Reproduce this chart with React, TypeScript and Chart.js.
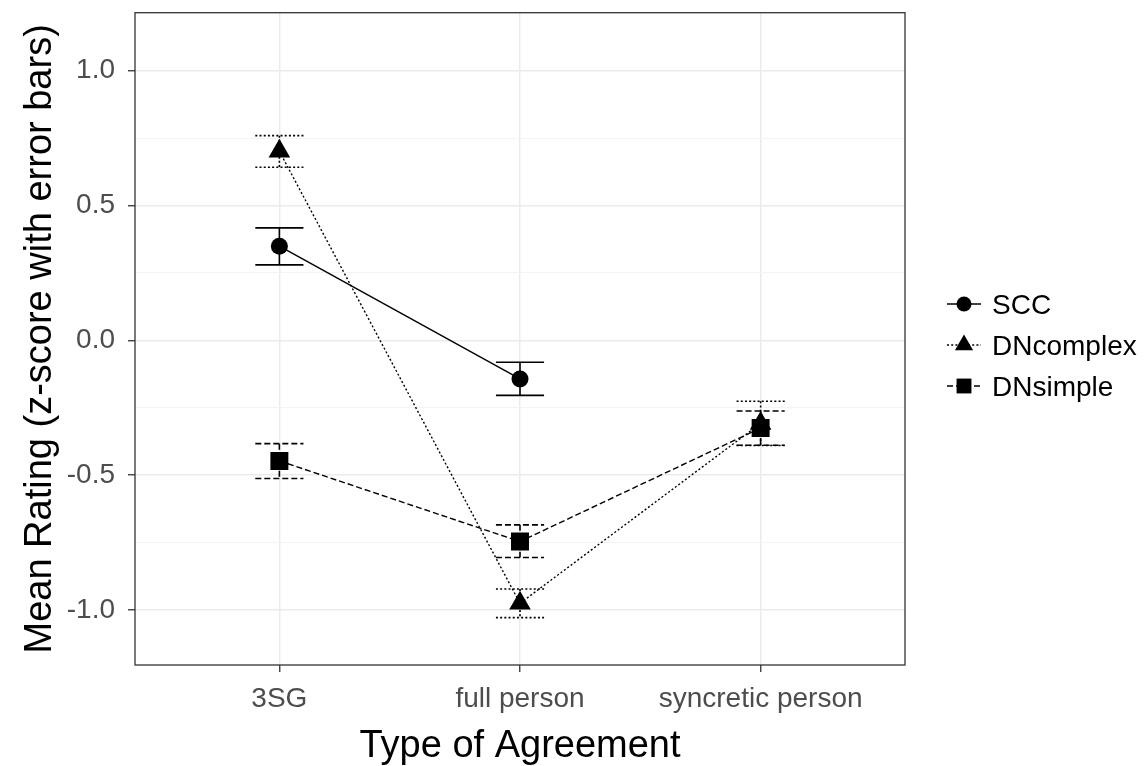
import React, { useEffect, useRef } from "react";
import { Chart, registerables } from "chart.js";

Chart.register(...registerables);

// ---- data ----
const categories = ["3SG", "full person", "syncretic person"];
const seriesNames = ["SCC", "DNcomplex", "DNsimple"];

const sccMean = [0.349, -0.143, null];
const sccLow = [0.28, -0.204, null];
const sccHigh = [0.417, -0.081, null];

const dnComplexMean = [0.701, -0.975, -0.308];
const dnComplexLow = [0.642, -1.028, -0.39];
const dnComplexHigh = [0.759, -0.922, -0.226];

const dnSimpleMean = [-0.447, -0.746, -0.325];
const dnSimpleLow = [-0.512, -0.805, -0.389];
const dnSimpleHigh = [-0.383, -0.684, -0.262];

const yTicks = [-1.0, -0.75, -0.5, -0.25, 0.0, 0.25, 0.5, 0.75, 1.0];

const xTitle = "Type of Agreement";
const yTitle = "Mean Rating (z-score with error bars)";

const FONT = "'Liberation Sans', Arial, Helvetica, sans-serif";

const isMajor = (v: number) => Math.abs(v * 2 - Math.round(v * 2)) < 1e-6;

function drawMarker(ctx: CanvasRenderingContext2D, style: string, x: number, y: number, r: number) {
  ctx.beginPath();
  if (style === "circle") {
    ctx.arc(x, y, r, 0, Math.PI * 2);
  } else if (style === "triangle") {
    ctx.moveTo(x, y - r);
    ctx.lineTo(x + r * Math.sin((2 * Math.PI) / 3), y + r * 0.5);
    ctx.lineTo(x - r * Math.sin((2 * Math.PI) / 3), y + r * 0.5);
    ctx.closePath();
  } else {
    const s = r * Math.SQRT1_2;
    ctx.rect(x - s, y - s, 2 * s, 2 * s);
  }
  ctx.fill();
}

export default function App() {
  const ref = useRef<HTMLCanvasElement>(null);

  useEffect(() => {
    const series = [
      { name: seriesNames[0], mean: sccMean, low: sccLow, high: sccHigh, dash: [] as number[], pointStyle: "circle", radius: 8.5, legendR: 7.5 },
      { name: seriesNames[1], mean: dnComplexMean, low: dnComplexLow, high: dnComplexHigh, dash: [2, 2.2], pointStyle: "triangle", radius: 12.5, legendR: 10.5 },
      { name: seriesNames[2], mean: dnSimpleMean, low: dnSimpleLow, high: dnSimpleHigh, dash: [6, 3], pointStyle: "rect", radius: 12.7, legendR: 10.5 },
    ];

    const errorBars = {
      id: "errorBars",
      beforeDatasetsDraw(chart: any) {
        const ctx = chart.ctx as CanvasRenderingContext2D;
        const xs = chart.scales.x;
        const ys = chart.scales.y;
        ctx.save();
        ctx.strokeStyle = "#000";
        ctx.lineWidth = 1.6;
        series.forEach((s) => {
          ctx.setLineDash(s.dash);
          s.mean.forEach((m, i) => {
            if (m == null) return;
            const x = xs.getPixelForValue(i);
            const half = xs.getPixelForValue(i + 0.1) - x;
            const yl = ys.getPixelForValue(s.low[i] as number);
            const yh = ys.getPixelForValue(s.high[i] as number);
            ctx.beginPath();
            ctx.moveTo(x - half, yh);
            ctx.lineTo(x + half, yh);
            ctx.moveTo(x - half, yl);
            ctx.lineTo(x + half, yl);
            ctx.moveTo(x, yh);
            ctx.lineTo(x, yl);
            ctx.stroke();
          });
        });
        ctx.restore();
      },
    };

    const decorations = {
      id: "decorations",
      afterDraw(chart: any) {
        const ctx = chart.ctx as CanvasRenderingContext2D;
        const a = chart.chartArea;
        ctx.save();
        // panel border
        ctx.setLineDash([]);
        ctx.strokeStyle = "#333333";
        ctx.lineWidth = 1.3;
        ctx.strokeRect(a.left, a.top, a.right - a.left, a.bottom - a.top);

        // axis titles
        ctx.fillStyle = "#000";
        ctx.font = `38px ${FONT}`;
        ctx.textAlign = "center";
        ctx.textBaseline = "alphabetic";
        ctx.fillText(xTitle, (a.left + a.right) / 2, 757);
        ctx.save();
        ctx.translate(51, (a.top + a.bottom) / 2);
        ctx.rotate(-Math.PI / 2);
        ctx.fillText(yTitle, 0, 0);
        ctx.restore();

        // legend
        const rows = [306, 347, 388];
        ctx.font = `28px ${FONT}`;
        ctx.textAlign = "left";
        ctx.textBaseline = "middle";
        series.forEach((s, i) => {
          const y = rows[i];
          ctx.strokeStyle = "#000";
          ctx.fillStyle = "#000";
          ctx.lineWidth = 1.4;
          ctx.setLineDash(s.dash);
          ctx.beginPath();
          ctx.moveTo(947, y - 2);
          ctx.lineTo(981, y - 2);
          ctx.stroke();
          ctx.setLineDash([]);
          drawMarker(ctx, s.pointStyle, 964, y - 2, s.legendR);
          ctx.fillText(s.name, 992, y);
        });
        ctx.restore();
      },
    };

    const chart = new Chart(ref.current as HTMLCanvasElement, {
      type: "line",
      data: {
        datasets: series.map((s) => ({
          label: s.name,
          data: s.mean.map((v, i) => ({ x: i, y: v as any })),
          borderColor: "#000",
          backgroundColor: "#000",
          borderWidth: 1.4,
          borderDash: s.dash,
          pointStyle: s.pointStyle as any,
          pointRadius: s.radius,
          pointBorderWidth: 0,
          pointBackgroundColor: "#000",
          pointBorderColor: "#000",
          fill: false,
          tension: 0,
          spanGaps: false,
        })),
      },
      options: {
        animation: false,
        responsive: false,
        devicePixelRatio: 1,
        events: [],
        layout: { padding: { left: 0, top: 12, right: 242, bottom: 0 } },
        plugins: {
          legend: { display: false },
          title: { display: false },
          tooltip: { enabled: false },
        },
        scales: {
          x: {
            type: "linear",
            min: -0.6,
            max: 2.6,
            afterBuildTicks: (s: any) => {
              s.ticks = categories.map((_, i) => ({ value: i }));
            },
            afterFit: (s: any) => {
              s.height = 101;
              s.paddingLeft = 0;
              s.paddingRight = 0;
              s.paddingTop = 0;
              s.paddingBottom = 0;
            },
            ticks: {
              autoSkip: false,
              maxRotation: 0,
              padding: 10,
              color: "#4d4d4d",
              font: { family: FONT, size: 28 },
              callback: (v: any) => categories[Math.round(Number(v))] ?? "",
            },
            grid: {
              color: "#ebebeb",
              lineWidth: 1.5,
              tickLength: 7,
              tickColor: "#333333",
              tickWidth: 1.3,
            },
            border: { display: false },
          },
          y: {
            type: "linear",
            min: -1.2037,
            max: 1.2148,
            afterBuildTicks: (s: any) => {
              s.ticks = yTicks.map((v) => ({ value: v }));
            },
            afterFit: (s: any) => {
              s.width = 135;
              s.paddingLeft = 0;
              s.paddingRight = 0;
              s.paddingTop = 0;
              s.paddingBottom = 0;
            },
            ticks: {
              autoSkip: false,
              padding: 13,
              color: "#4d4d4d",
              font: { family: FONT, size: 28 },
              callback: (v: any) => (isMajor(Number(v)) ? Number(v).toFixed(1) : ""),
            },
            grid: {
              color: (c: any) => (isMajor(c.tick.value) ? "#ebebeb" : "#f4f4f4"),
              lineWidth: (c: any) => (isMajor(c.tick.value) ? 1.5 : 1),
              tickLength: 7,
              tickColor: (c: any) => (isMajor(c.tick.value) ? "#333333" : "rgba(0,0,0,0)"),
              tickWidth: 1.3,
            },
            border: { display: false },
          },
        },
      },
      plugins: [errorBars, decorations],
    });

    return () => chart.destroy();
  }, []);

  return (
    <div style={{ position: "fixed", left: 0, top: 0, width: 1147, height: 766, background: "#fff" }}>
      <canvas ref={ref} width={1147} height={766} style={{ display: "block" }} />
    </div>
  );
}
